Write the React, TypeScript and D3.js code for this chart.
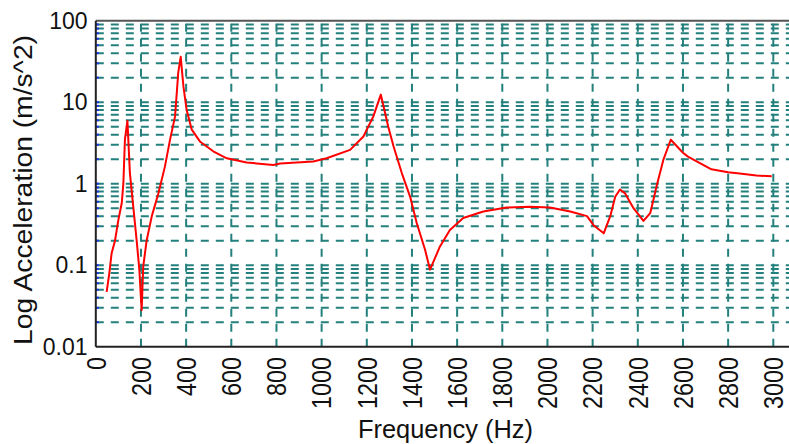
import React from "react";
import * as d3 from "d3";

// ---- data ----
const FREQ_HZ = [
  48, 60, 70, 85, 100, 115, 122, 129, 140, 151, 166, 181, 193, 203, 210, 225, 248, 277, 306, 329, 351, 365, 376,
  388, 402, 425, 461, 520, 580, 668, 786, 816, 963, 1022, 1126, 1185, 1229, 1262, 1295, 1318, 1355, 1392, 1421,
  1458, 1480, 1524, 1568, 1627, 1716, 1819, 1922, 2011, 2101, 2175, 2204, 2249, 2278, 2300, 2321, 2344, 2381,
  2425, 2455, 2484, 2513, 2546, 2600, 2622, 2675, 2726, 2800, 2851, 2925, 2993,
];
const ACCEL = [
  0.047, 0.08, 0.14, 0.2, 0.36, 0.58, 1.0, 3.5, 5.9, 1.35, 0.52, 0.2, 0.087, 0.028, 0.096, 0.2, 0.4, 0.76, 1.62,
  3.5, 6.7, 23, 36, 15.6, 8.1, 4.6, 3.3, 2.5, 2.05, 1.82, 1.7, 1.77, 1.87, 2.05, 2.6, 3.8, 6.7, 12.4, 5.0, 2.9,
  1.35, 0.69, 0.33, 0.155, 0.088, 0.17, 0.27, 0.38, 0.455, 0.51, 0.52, 0.51, 0.455, 0.4, 0.31, 0.246, 0.4, 0.69,
  0.85, 0.76, 0.5, 0.35, 0.435, 0.95, 1.96, 3.46, 2.4, 2.15, 1.79, 1.5, 1.38, 1.33, 1.26, 1.23,
];
const X_TICKS = [0, 200, 400, 600, 800, 1000, 1200, 1400, 1600, 1800, 2000, 2200, 2400, 2600, 2800, 3000];
const Y_TICKS = [0.01, 0.1, 1, 10, 100];
const Y_TICK_LABELS = ["0.01", "0.1", "1", "10", "100"];
const X_TITLE = "Frequency (Hz)";
const Y_TITLE = "Log Acceleration (m/s^2)";

const W = 789;
const H = 444;
const GRID = "#23807c";
const FONT = "'Liberation Sans', Arial, sans-serif";

export default function App() {
  const x = d3.scaleLinear().domain([0, 3000]).range([95.8, 773.3]);
  const y = d3.scaleLog().domain([0.01, 100]).range([346.7, 20.7]);
  const left = x(0);
  const right = x(3100);
  const top = y(100);
  const bottom = y(0.01);

  // minor log grid values
  const gridY: number[] = [];
  for (let e = -2; e < 2; e++) {
    for (let k = 1; k <= 9; k++) {
      const v = k * Math.pow(10, e);
      if (v > 0.01 * 1.0001) gridY.push(v);
    }
  }

  const line = d3
    .line<number>()
    .x((_, i) => x(FREQ_HZ[i]))
    .y((d) => y(d));

  return (
    <svg
      width={W}
      height={H}
      style={{ position: "absolute", left: 0, top: 0, background: "#fff" }}
    >
      <rect x={0} y={0} width={W} height={H} fill="#fff" />
      {/* horizontal grid */}
      {gridY.map((v, i) => (
        <g key={"h" + i}>
          <line
            x1={left}
            x2={right}
            y1={y(v)}
            y2={y(v)}
            stroke={GRID}
            strokeWidth={2}
            strokeDasharray="8,7"
          />
          <line x1={left} x2={left + 3} y1={y(v)} y2={y(v)} stroke="#2233ee" strokeWidth={2} />
        </g>
      ))}
      {/* vertical grid */}
      {X_TICKS.filter((t) => t > 0).map((t) => (
        <line
          key={"v" + t}
          x1={x(t)}
          x2={x(t)}
          y1={bottom}
          y2={top}
          stroke={GRID}
          strokeWidth={2}
          strokeDasharray="8,7"
        />
      ))}
      {/* axes box */}
      <line x1={left} x2={right} y1={top} y2={top} stroke="#555" strokeWidth={2} />
      <line x1={left} x2={left} y1={top} y2={bottom} stroke="#222" strokeWidth={2} />
      <line x1={left} x2={right} y1={bottom} y2={bottom} stroke="#222" strokeWidth={2} />

      {/* data curve */}
      <path d={line(ACCEL) || ""} fill="none" stroke="#ff0000" strokeWidth={2} strokeLinejoin="round" />

      {/* y tick labels */}
      {Y_TICKS.map((v, i) => (
        <text
          key={"yl" + i}
          x={87.5}
          y={y(v)}
          dy="0.35em"
          textAnchor="end"
          fontFamily={FONT}
          fontSize={23}
          fill="#111"
        >
          {Y_TICK_LABELS[i]}
        </text>
      ))}
      {/* x tick labels (rotated) */}
      {X_TICKS.map((t) => {
        const s = String(t);
        return (
          <text
            key={"xl" + t}
            transform={`translate(${x(t)},357) rotate(-90)`}
            dy="0.35em"
            textAnchor="end"
            fontFamily={FONT}
            fontSize={28}
            textLength={s.length * 13}
            lengthAdjust="spacingAndGlyphs"
            fill="#111"
          >
            {s}
          </text>
        );
      })}
      {/* titles */}
      <text
        x={445.5}
        y={438.3}
        textAnchor="middle"
        fontFamily={FONT}
        fontSize={25.5}
        textLength={175}
        lengthAdjust="spacingAndGlyphs"
        fill="#111"
      >
        {X_TITLE}
      </text>
      <text
        transform="translate(31.7,190) rotate(-90)"
        textAnchor="middle"
        fontFamily={FONT}
        fontSize={25.5}
        textLength={310}
        lengthAdjust="spacingAndGlyphs"
        fill="#111"
      >
        {Y_TITLE}
      </text>
    </svg>
  );
}
